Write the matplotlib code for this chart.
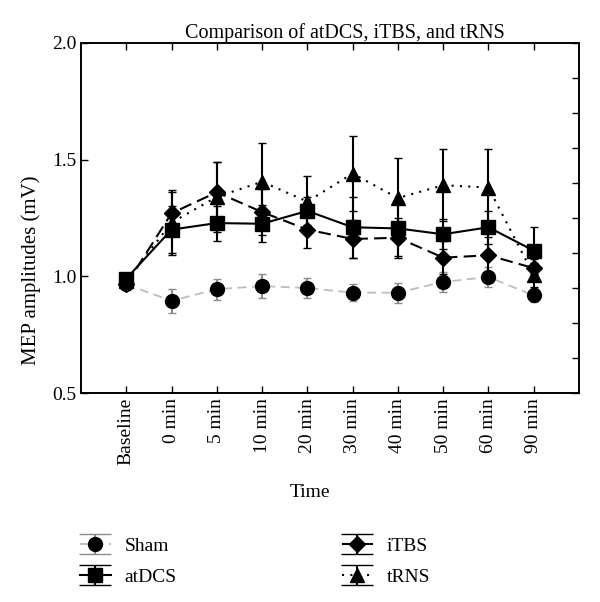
import numpy as np
import matplotlib
matplotlib.use("Agg")
import matplotlib.pyplot as plt
from matplotlib.lines import Line2D
from matplotlib.legend_handler import HandlerErrorbar

plt.rcParams['font.family'] = ['Liberation Serif', 'DejaVu Serif']

times = ["Baseline", "0 min", "5 min", "10 min", "20 min", "30 min",
         "40 min", "50 min", "60 min", "90 min"]

sham = [0.965, 0.895, 0.945, 0.958, 0.950, 0.930, 0.930, 0.976, 0.997, 0.918]
sham_err = [0.02, 0.05, 0.045, 0.05, 0.043, 0.035, 0.043, 0.044, 0.043, 0.03]

atdcs = [0.990, 1.200, 1.228, 1.225, 1.280, 1.210, 1.205, 1.180, 1.210, 1.110]
atdcs_err = [0.02, 0.10, 0.075, 0.08, 0.06, 0.13, 0.12, 0.065, 0.07, 0.10]

itbs = [0.965, 1.270, 1.360, 1.275, 1.200, 1.160, 1.165, 1.080, 1.090, 1.035]
itbs_err = [0.02, 0.09, 0.13, 0.10, 0.08, 0.08, 0.085, 0.07, 0.08, 0.04]

trns = [0.980, 1.230, 1.340, 1.405, 1.320, 1.440, 1.335, 1.390, 1.380, 1.005]
trns_err = [0.02, 0.14, 0.15, 0.165, 0.11, 0.16, 0.17, 0.155, 0.165, 0.05]


class WideCaps(HandlerErrorbar):
    # legend caps drawn across the whole handle, like the original figure
    def create_artists(self, legend, orig_handle, xdescent, ydescent,
                       width, height, fontsize, trans):
        arts = super().create_artists(legend, orig_handle, xdescent, ydescent,
                                      width, height, fontsize, trans)
        for a in arts:
            if isinstance(a, Line2D) and a.get_linestyle() == 'None' and a.get_marker() == '_':
                a.set_markersize(width)
        return arts


x = np.arange(len(times))

fig = plt.figure(figsize=(6.0, 6.02), dpi=100)
ax = fig.add_axes([0.135, 0.347, 0.83, 0.582])

fs = 14
ax.errorbar(x, sham, yerr=sham_err, color='#bdbdbd', ecolor='#8c8c8c',
            linestyle=(0, (5, 3)), lw=1.3, marker='o', ms=10, mfc='black',
            mec='black', capsize=3, elinewidth=1.5, label='Sham')
ax.errorbar(x, atdcs, yerr=atdcs_err, color='black', linestyle='-', lw=1.5,
            marker='s', ms=10, capsize=3, elinewidth=1.5, label='atDCS')
ax.errorbar(x, itbs, yerr=itbs_err, color='black', linestyle=(0, (6, 3)), lw=1.5,
            marker='D', ms=8, capsize=3, elinewidth=1.5, label='iTBS')
ax.errorbar(x, trns, yerr=trns_err, color='black', linestyle=(0, (1, 3)), lw=1.5,
            marker='^', ms=10, capsize=3, elinewidth=1.5, label='tRNS')

ax.set_xlim(-1, 10)
ax.set_ylim(0.5, 2.0)
ax.set_xticks(x)
ax.set_xticklabels(times, rotation=90, fontsize=fs)
ax.set_yticks([0.5, 1.0, 1.5, 2.0])
ax.set_yticklabels(["0.5", "1.0", "1.5", "2.0"], fontsize=fs)
ax.tick_params(direction='in', length=5, top=True, width=1)

twin = ax.twinx()
twin.set_ylim(0.5, 2.0)
twin.set_yticks(np.linspace(0.5, 2.0, 11))
twin.tick_params(direction='in', length=5, labelright=False, width=1)

for a in (ax, twin):
    for s in a.spines.values():
        s.set_linewidth(1.2)

ax.set_title("Comparison of atDCS, iTBS, and tRNS", fontsize=14.5, x=0.53, pad=1)
ax.set_ylabel("MEP amplitudes (mV)", fontsize=15)
ax.yaxis.set_label_coords(-0.08, 0.35)
ax.set_xlabel("Time", fontsize=fs)
ax.xaxis.set_label_coords(0.46, -0.26)

handles, labels = ax.get_legend_handles_labels()
fig.legend(handles, labels, loc='upper left', bbox_to_anchor=(0.133, 0.108),
           ncol=2, frameon=False, fontsize=fs, borderpad=0, borderaxespad=0,
           columnspacing=8.5, handlelength=1.6, handletextpad=0.7,
           labelspacing=0.7, handler_map={type(handles[0]): WideCaps()})

fig.savefig("out.png", dpi=100)
